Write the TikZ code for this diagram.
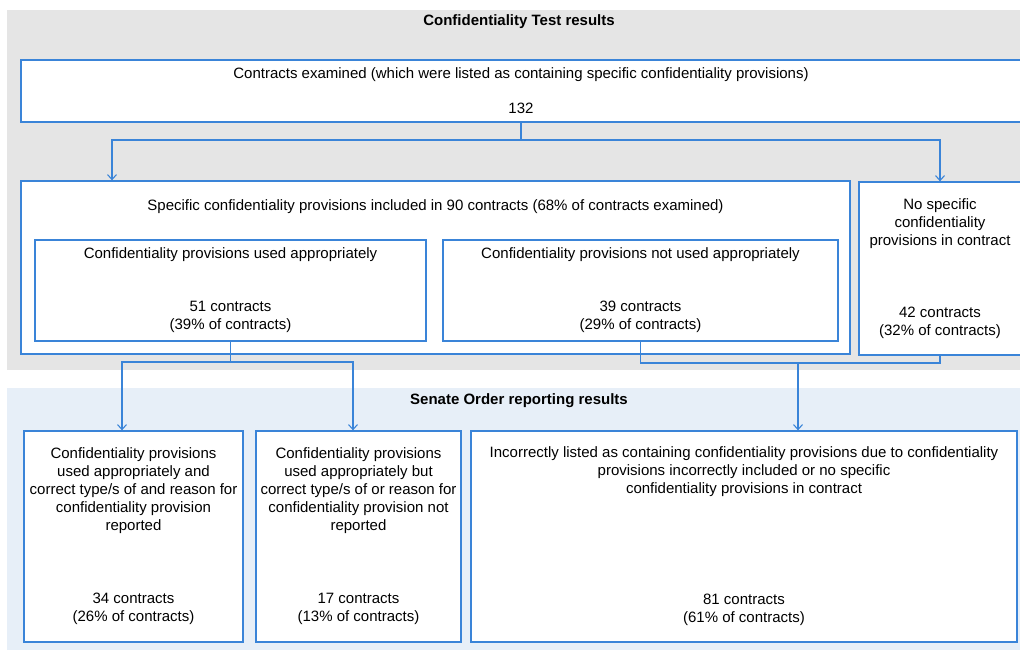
\documentclass[tikz,border=0pt]{standalone}
\usepackage{fontspec}
\setmainfont{Liberation Sans}
\usetikzlibrary{arrows.meta}
\definecolor{boxline}{RGB}{58,132,216}
\definecolor{testband}{RGB}{229,229,229}
\definecolor{senateband}{RGB}{231,239,248}
\tikzstyle{result}=[draw=boxline, fill=white, line width=1.3pt, align=center, inner sep=0pt, font=\fontsize{15}{18}\selectfont]
\tikzstyle{caption}=[align=center, inner sep=0pt, font=\fontsize{15}{18}\selectfont]
\tikzstyle{heading}=[inner sep=0pt, font=\fontsize{15}{18}\selectfont\bfseries]
\tikzstyle{link}=[draw=boxline, line width=1.1pt, -{Straight Barb[length=5pt,width=9pt]}]
\tikzstyle{joint}=[draw=boxline, line width=1.1pt]

\begin{document}
\begin{tikzpicture}[x=1pt, y=-1pt]
      \useasboundingbox (0,0) rectangle (1020,650);
      \fill[testband] (7,10) rectangle (1020,370);
      \fill[senateband] (7,388) rectangle (1020,650);
      \node[heading] (testhead) at (519,22) {Confidentiality Test results};
      \node[heading] (senatehead) at (519,401) {Senate Order reporting results};
      \node[result, minimum width=1000, minimum height=62] (examined) at (521,91)
        {Contracts examined (which were listed as containing specific confidentiality provisions)\\[17pt]132};
      \node[result, minimum width=829, minimum height=173] (included) at (435.5,267.5) {};
      \node[caption] (includedtext) at (435.5,207)
        {Specific confidentiality provisions included in 90 contracts (68\% of contracts examined)};
      \node[result, minimum width=162, minimum height=173] (nospec) at (940,268.5)
        {No specific\\confidentiality\\provisions in contract\\[54pt]42 contracts\\(32\% of contracts)};
      \node[result, minimum width=391, minimum height=101] (used) at (230.5,290.5)
        {Confidentiality provisions used appropriately\\[35pt]51 contracts\\(39\% of contracts)};
      \node[result, minimum width=395, minimum height=101] (notused) at (640.5,290.5)
        {Confidentiality provisions not used appropriately\\[35pt]39 contracts\\(29\% of contracts)};
      \node[result, minimum width=219, minimum height=211] (reported) at (133.5,536.5)
        {Confidentiality provisions\\used appropriately and\\correct type/s of and reason for\\confidentiality provision\\reported\\[55pt]34 contracts\\(26\% of contracts)};
      \node[result, minimum width=205, minimum height=211] (notreported) at (358.5,536.5)
        {Confidentiality provisions\\used appropriately but\\correct type/s of or reason for\\confidentiality provision not\\reported\\[55pt]17 contracts\\(13\% of contracts)};
      \node[result, minimum width=546, minimum height=211] (incorrect) at (744,536.5)
        {Incorrectly listed as containing confidentiality provisions due to confidentiality\\provisions incorrectly included or no specific\\confidentiality provisions in contract\\[93pt]81 contracts\\(61\% of contracts)};
      % connectors
      \coordinate (split1) at (112,140);
      \coordinate (split2) at (940,140);
      \coordinate (split3) at (122,362);
      \coordinate (split4) at (353,362);
      \coordinate (merge) at (798,363);
      \draw[link] (examined.south) |- (split1) -- (split1 |- included.north);
      \draw[link] (examined.south) |- (split2) -- (nospec.north);
      \draw[link] (used.south) |- (split3) -- (split3 |- reported.north);
      \draw[link] (used.south) |- (split4) -- (split4 |- notreported.north);
      \draw[joint] (notused.south) |- (nospec.south |- merge) -- (nospec.south);
      \draw[link] (merge) -- (merge |- incorrect.north);
    \end{tikzpicture}
\end{document}
